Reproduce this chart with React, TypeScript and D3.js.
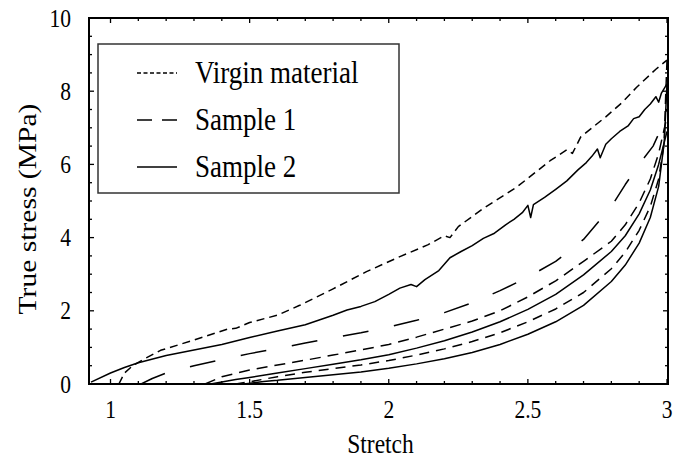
import React from "react";
import * as d3 from "d3";

type Pt = [number, number];

// Virgin material: monotonic loading up to stretch 3
const virginLoading: Pt[] = [
  [1.03, 0.0], [1.05, 0.3], [1.08, 0.5], [1.12, 0.68], [1.18, 0.92], [1.3, 1.2],
  [1.42, 1.5], [1.45, 1.52], [1.5, 1.68], [1.6, 1.88], [1.68, 2.15], [1.8, 2.6],
  [1.92, 3.07], [2.04, 3.48], [2.14, 3.8], [2.2, 4.05], [2.22, 4.0], [2.25, 4.3],
  [2.34, 4.8], [2.46, 5.38], [2.58, 6.1], [2.64, 6.4], [2.66, 6.3], [2.69, 6.75],
  [2.78, 7.3], [2.84, 7.7], [2.89, 8.1], [2.96, 8.6], [3.0, 8.85],
];

// Sample 1: first loading
const sample1Loading: Pt[] = [
  [1.11, 0.0], [1.15, 0.15], [1.2, 0.3], [1.3, 0.5], [1.4, 0.67], [1.5, 0.83],
  [1.6, 0.97], [1.7, 1.12], [1.8, 1.26], [1.9, 1.4], [2.0, 1.56], [2.1, 1.74],
  [2.2, 1.95], [2.3, 2.22], [2.4, 2.55], [2.5, 2.92], [2.6, 3.35], [2.7, 3.95],
  [2.8, 4.85], [2.85, 5.45], [2.9, 6.0], [2.95, 6.5], [2.98, 7.0], [3.0, 7.5],
];

// Sample 1: reloading and unloading branches
const sample1Reload: Pt[] = [
  [1.34, 0.0], [1.4, 0.2], [1.5, 0.38], [1.6, 0.52], [1.7, 0.65], [1.8, 0.79],
  [1.9, 0.93], [2.0, 1.08], [2.1, 1.28], [2.2, 1.5], [2.3, 1.72], [2.4, 2.0],
  [2.5, 2.38], [2.6, 2.82], [2.7, 3.35], [2.8, 3.9], [2.85, 4.35], [2.9, 4.95],
  [2.94, 5.6], [2.97, 6.3], [3.0, 7.3],
];
const sample1Unload: Pt[] = [
  [3.0, 8.85], [2.995, 7.8], [2.99, 6.6], [2.97, 5.6], [2.94, 4.85], [2.9, 4.2],
  [2.85, 3.6], [2.8, 3.15], [2.7, 2.5], [2.6, 2.05], [2.5, 1.7], [2.4, 1.4],
  [2.3, 1.16], [2.2, 0.96], [2.1, 0.79], [2.0, 0.64], [1.9, 0.52], [1.8, 0.42],
  [1.7, 0.32], [1.6, 0.2], [1.5, 0.06], [1.45, 0.0],
];

// Sample 2: first loading
const sample2Loading: Pt[] = [
  [0.93, 0.05], [1.0, 0.3], [1.05, 0.45], [1.1, 0.58], [1.2, 0.78], [1.3, 0.93],
  [1.4, 1.08], [1.5, 1.27], [1.6, 1.45], [1.7, 1.62], [1.75, 1.75], [1.8, 1.88],
  [1.85, 2.02], [1.9, 2.12], [1.95, 2.25], [2.0, 2.45], [2.04, 2.62], [2.08, 2.72],
  [2.1, 2.66], [2.13, 2.85], [2.18, 3.1], [2.22, 3.45], [2.26, 3.62], [2.3, 3.78],
  [2.34, 3.98], [2.38, 4.12], [2.42, 4.35], [2.45, 4.5], [2.48, 4.68], [2.5, 4.88],
  [2.51, 4.55], [2.52, 4.9], [2.56, 5.1], [2.6, 5.32], [2.64, 5.55], [2.68, 5.85],
  [2.71, 6.05], [2.73, 6.22], [2.75, 6.42], [2.76, 6.18], [2.78, 6.55], [2.8, 6.7],
  [2.83, 6.9], [2.86, 7.05], [2.88, 7.25], [2.9, 7.3], [2.92, 7.5], [2.94, 7.65],
  [2.96, 7.85], [2.97, 7.7], [2.98, 7.95], [3.0, 8.2],
];

// Sample 2: reloading and unloading branches
const sample2Reload: Pt[] = [
  [1.36, 0.0], [1.45, 0.12], [1.5, 0.18], [1.6, 0.3], [1.7, 0.42], [1.8, 0.54],
  [1.9, 0.66], [2.0, 0.8], [2.1, 0.98], [2.2, 1.18], [2.3, 1.42], [2.4, 1.7],
  [2.5, 2.04], [2.6, 2.45], [2.7, 2.98], [2.8, 3.62], [2.85, 4.05], [2.9, 4.65],
  [2.94, 5.3], [2.97, 6.0], [3.0, 6.9],
];
const sample2Unload: Pt[] = [
  [3.0, 8.2], [2.995, 7.4], [2.99, 6.6], [2.97, 5.4], [2.94, 4.55], [2.9, 3.85],
  [2.85, 3.25], [2.8, 2.8], [2.7, 2.15], [2.6, 1.7], [2.5, 1.36], [2.4, 1.08],
  [2.3, 0.86], [2.2, 0.69], [2.1, 0.55], [2.0, 0.43], [1.9, 0.33], [1.8, 0.25],
  [1.7, 0.18], [1.6, 0.1], [1.55, 0.07], [1.48, 0.0],
];

const xMajorTicks = [1, 1.5, 2, 2.5, 3];
const xTickLabels = ["1", "1.5", "2", "2.5", "3"];
const yMajorTicks = [0, 2, 4, 6, 8, 10];
const yTickLabels = ["0", "2", "4", "6", "8", "10"];
const legendLabels = ["Virgin material", "Sample 1", "Sample 2"];

const W = 673;
const H = 459;
const left = 89;
const right = 668;
const top = 18;
const bottom = 384;
const SY = 1.16; // vertical stretch of the lettering

const x = d3.scaleLinear().domain([0.9227, 3.0036]).range([left, right]);
const y = d3.scaleLinear().domain([0, 10]).range([bottom, top]);

const line = d3
  .line<Pt>()
  .x((d) => x(d[0]))
  .y((d) => y(d[1]));

const xMinor = d3.range(10, 31).map((v) => v / 10);
const yMinor = d3.range(0, 21).map((v) => v / 2);

const FONT = '"Liberation Serif", "Times New Roman", Times, "DejaVu Serif", serif';

function T({
  x: tx,
  y: ty,
  size,
  anchor = "start",
  rotate = 0,
  children,
}: {
  x: number;
  y: number;
  size: number;
  anchor?: string;
  rotate?: number;
  children: React.ReactNode;
}) {
  const tf =
    rotate !== 0
      ? `translate(${tx},${ty}) rotate(${rotate}) scale(${SY},1)`
      : `translate(${tx},${ty}) scale(1,${SY})`;
  return (
    <text
      transform={tf}
      style={{ fontFamily: FONT, fontSize: size }}
      textAnchor={anchor as any}
      fill="#000"
    >
      {children}
    </text>
  );
}

export default function App() {
  const curves: { d: Pt[]; dash?: string; w: number }[] = [
    { d: virginLoading, dash: "8,5", w: 1.5 },
    { d: sample1Loading, dash: "26,26", w: 1.5 },
    { d: sample1Reload, dash: "11,7", w: 1.5 },
    { d: sample1Unload, dash: "10,7", w: 1.5 },
    { d: sample2Loading, w: 1.5 },
    { d: sample2Reload, w: 1.5 },
    { d: sample2Unload, w: 1.5 },
  ];

  const legendDash = ["4,2.5", "15,10", undefined];

  return (
    <svg
      width={W}
      height={H}
      style={{ display: "block", position: "absolute", left: 0, top: 0, background: "#fff" }}
    >
      <defs>
        <clipPath id="plot">
          <rect x={left} y={top} width={right - left} height={bottom - top} />
        </clipPath>
      </defs>

      {/* curves */}
      <g clipPath="url(#plot)">
        {curves.map((c, i) => (
          <path
            key={i}
            d={line(c.d) || ""}
            fill="none"
            stroke="#000"
            strokeWidth={c.w}
            strokeDasharray={c.dash}
            strokeLinejoin="round"
          />
        ))}
      </g>

      {/* inward ticks on all four sides */}
      <g stroke="#000" strokeWidth={1.3}>
        {xMinor.map((v) => {
          const major = xMajorTicks.some((m) => Math.abs(m - v) < 1e-6);
          const len = major ? 5 : 3;
          return (
            <g key={"xt" + v}>
              <line x1={x(v)} x2={x(v)} y1={bottom} y2={bottom - len} />
              <line x1={x(v)} x2={x(v)} y1={top} y2={top + len} />
            </g>
          );
        })}
        {yMinor.map((v) => {
          const major = yMajorTicks.includes(v);
          const len = major ? 5 : 3;
          return (
            <g key={"yt" + v}>
              <line x1={left} x2={left + len} y1={y(v)} y2={y(v)} />
              <line x1={right} x2={right - len} y1={y(v)} y2={y(v)} />
            </g>
          );
        })}
      </g>

      {/* frame */}
      <rect
        x={left}
        y={top}
        width={right - left}
        height={bottom - top}
        fill="none"
        stroke="#000"
        strokeWidth={2}
      />

      {/* tick labels */}
      {xMajorTicks.map((v, i) => (
        <T key={"xl" + v} x={x(v)} y={418} size={21.5} anchor="middle">
          {xTickLabels[i]}
        </T>
      ))}
      {yMajorTicks.map((v, i) => (
        <T key={"yl" + v} x={71} y={y(v) + 8.5} size={21.5} anchor="end">
          {yTickLabels[i]}
        </T>
      ))}

      {/* axis titles */}
      <T x={(left + right) / 2 + 2} y={453} size={23.5} anchor="middle">
        Stretch
      </T>
      <T x={36} y={209} size={25.5} anchor="middle" rotate={-90}>
        True stress (MPa)
      </T>

      {/* legend */}
      <rect x={98} y={44} width={301} height={149} fill="#fff" stroke="#333" strokeWidth={1.5} />
      {legendLabels.map((lab, i) => {
        const base = 83 + i * 47;
        return (
          <g key={lab}>
            <line
              x1={137}
              x2={177}
              y1={base - 10}
              y2={base - 10}
              stroke="#000"
              strokeWidth={1.5}
              strokeDasharray={legendDash[i]}
            />
            <T x={195} y={base} size={27}>
              {lab}
            </T>
          </g>
        );
      })}
    </svg>
  );
}
